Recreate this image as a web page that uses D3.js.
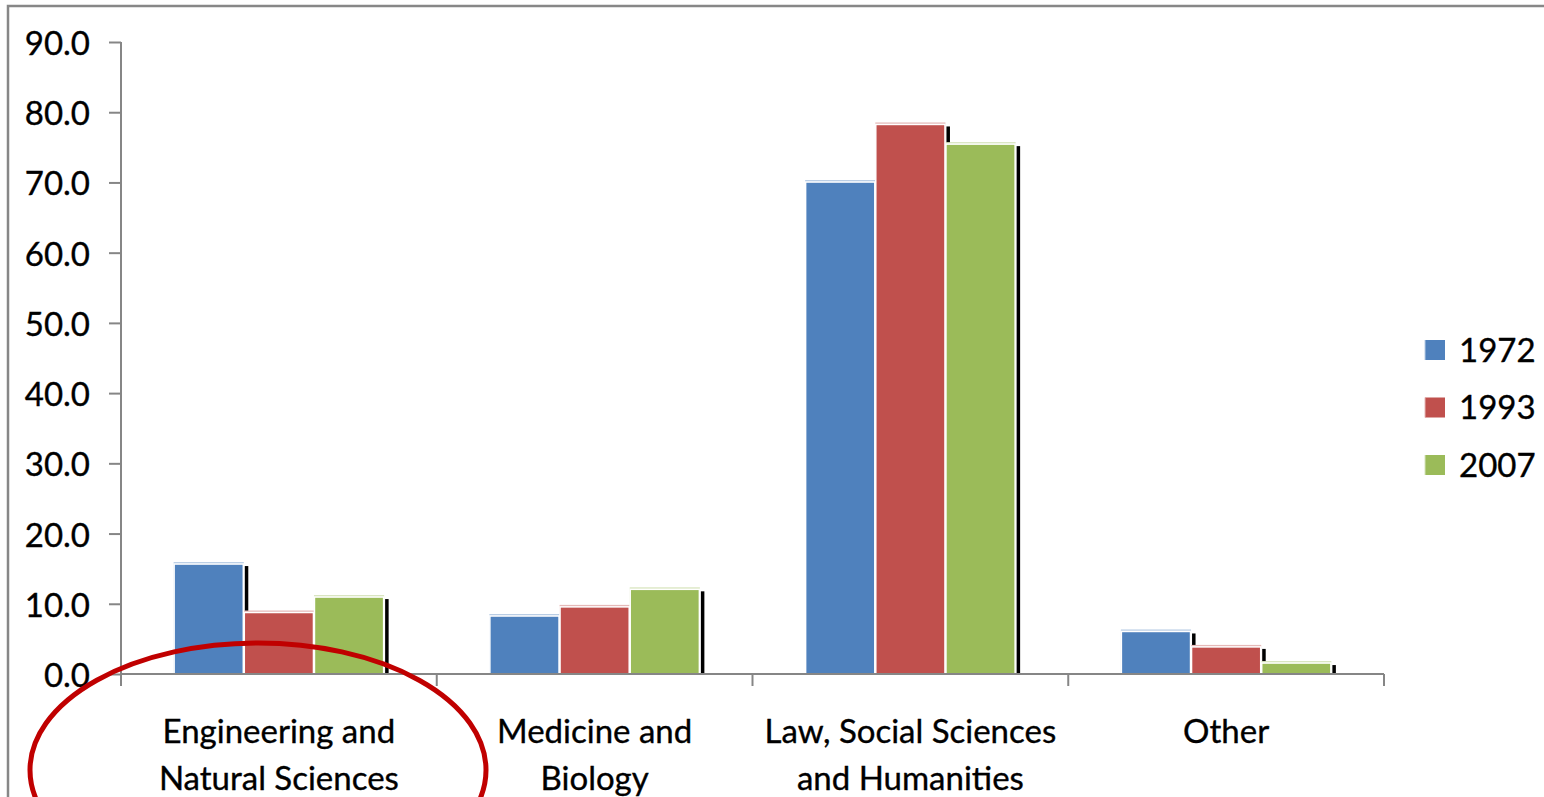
<!DOCTYPE html>
<html><head><meta charset="utf-8">
<script src="https://cdn.jsdelivr.net/npm/d3@7"></script>
<style>html,body{margin:0;padding:0;background:#fff;overflow:hidden}</style>
</head><body>
<svg id="c" width="1544" height="797"></svg>
<script>
const categories = [["Engineering and","Natural Sciences"],["Medicine and","Biology"],["Law, Social Sciences","and Humanities"],["Other"]];
const seriesNames = ["1972","1993","2007"];
const values1972 = [15.8, 8.4, 70.2, 6.2];
const values1993 = [8.9, 9.7, 78.4, 4.0];
const values2007 = [11.1, 12.2, 75.6, 1.7];
const yTicks = [0,10,20,30,40,50,60,70,80,90];
const colors = ["#4F81BD","#C0504D","#9BBB59"];
const lightColors = ["#B9CDE5","#E6B9B8","#D7E4BD"];

const series = [values1972, values1993, values2007];
const FONT = "Lato, 'Open Sans', sans-serif";
const svg = d3.select("#c");

// frame
svg.append("rect").attr("x",8).attr("y",6).attr("width",1600).attr("height",900)
  .attr("fill","none").attr("stroke","#878787").attr("stroke-width",2.5);

const x0 = d3.scaleBand().domain(d3.range(categories.length)).range([121,1384]).padding(0);
const x1 = d3.scaleBand().domain(d3.range(seriesNames.length)).range([0,x0.bandwidth()]).paddingInner(0).paddingOuter(0.75);
const y = d3.scaleLinear().domain([0,90]).range([674,42]);

const g = svg.append("g");
const bars = [];
categories.forEach((c,ci)=>{
  series.forEach((s,si)=>{
    bars.push({ci,si,v:s[ci]});
  });
});
// shadows first
g.selectAll("rect.sh").data(bars).join("rect").attr("class","sh")
  .attr("x",d=>x0(d.ci)+x1(d.si)+x1.bandwidth()+1)
  .attr("y",d=>y(d.v)+3)
  .attr("width",3.5)
  .attr("height",d=>y(0)-y(d.v)-3)
  .attr("fill","#000");
g.selectAll("rect.hl").data(bars).join("rect").attr("class","hl")
  .attr("x",d=>x0(d.ci)+x1(d.si))
  .attr("y",d=>y(d.v)-1)
  .attr("width",x1.bandwidth())
  .attr("height",d=>y(0)-y(d.v)+1)
  .attr("fill",d=>lightColors[d.si]);
g.selectAll("rect.bar").data(bars).join("rect").attr("class","bar")
  .attr("x",d=>x0(d.ci)+x1(d.si)+0.5)
  .attr("y",d=>y(d.v)+1)
  .attr("width",x1.bandwidth()-1)
  .attr("height",d=>y(0)-y(d.v)-1)
  .attr("fill",d=>colors[d.si])
  .attr("stroke","#fff").attr("stroke-width",1.5);

const textStyle = sel => sel.style("font-family",FONT).attr("fill","#000")
  .attr("stroke","#000").attr("stroke-width",0.35);

// y axis
const yAxis = d3.axisLeft(y).tickValues(yTicks).tickFormat(d3.format(".1f")).tickSize(12).tickPadding(19).tickSizeOuter(0);
const ya = svg.append("g").attr("transform","translate(121,0)").call(yAxis);
ya.select(".domain").remove();
ya.append("line").attr("x1",0).attr("x2",0).attr("y1",42).attr("y2",686).attr("stroke","#868686").attr("stroke-width",2);
ya.selectAll(".tick line").attr("stroke","#868686").attr("stroke-width",2);
ya.selectAll(".tick text").call(textStyle).style("font-size","33px").attr("dy","0.38em");

// x axis
const xa = svg.append("g");
xa.append("line").attr("x1",121).attr("x2",1384).attr("y1",y(0)).attr("y2",y(0)).attr("stroke","#868686").attr("stroke-width",2);
const sepTicks = d3.range(categories.length).map(i=>x0(i)+x0.bandwidth());
xa.selectAll("line.t").data(sepTicks).join("line").attr("class","t")
  .attr("x1",d=>d).attr("x2",d=>d).attr("y1",y(0)).attr("y2",y(0)+12)
  .attr("stroke","#868686").attr("stroke-width",2);
const lab = xa.selectAll("text.cat").data(categories).join("text").attr("class","cat")
  .attr("x",(d,i)=>x0(i)+x0.bandwidth()/2)
  .attr("text-anchor","middle")
  .call(textStyle).style("font-size","33px");
lab.selectAll("tspan").data(d=>d).join("tspan")
  .attr("x",function(){return this.parentNode.getAttribute("x");})
  .attr("y",(d,i)=>743+i*47)
  .text(d=>d);

// legend
const lg = svg.append("g");
seriesNames.forEach((n,i)=>{
  const cy = 350 + i*57.5;
  lg.append("rect").attr("x",1425).attr("y",cy-10).attr("width",20).attr("height",20).attr("fill",colors[i]);
  lg.append("line").attr("x1",1425).attr("x2",1425).attr("y1",cy-10).attr("y2",cy+10).attr("stroke",lightColors[i]).attr("stroke-width",1);
  lg.append("text").attr("x",1459).attr("y",cy).attr("dy","0.36em").text(n)
    .call(textStyle).style("font-size","33px");
});

// red ellipse annotation
svg.append("ellipse").attr("cx",258).attr("cy",770).attr("rx",228).attr("ry",127)
  .attr("fill","none").attr("stroke","#C00000").attr("stroke-width",5);
</script>
</body></html>
